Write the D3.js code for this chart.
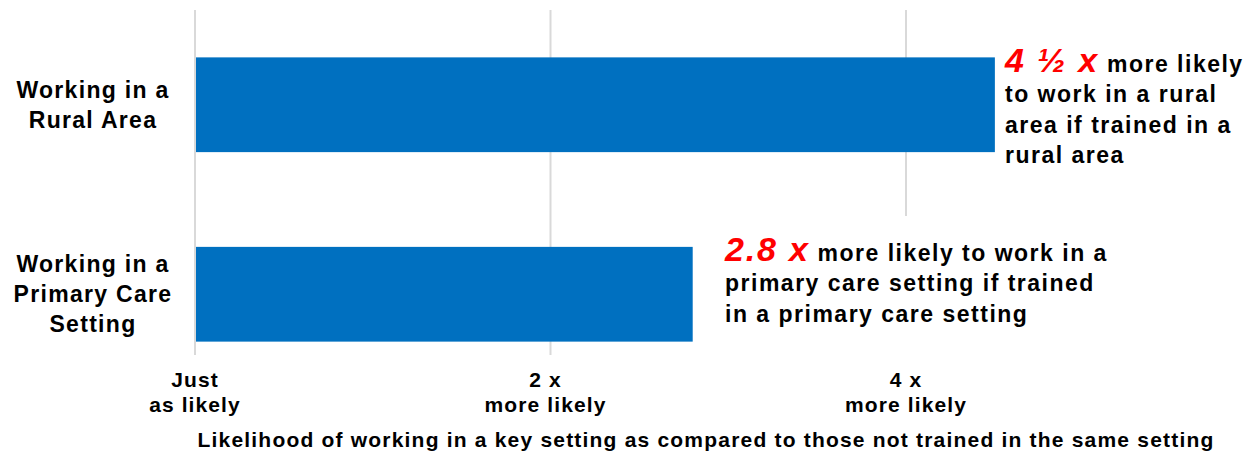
<!DOCTYPE html>
<html lang="en">
<head>
<meta charset="utf-8">
<style>
  body { margin: 0; background: #fff; }
  svg text { font-family: "Liberation Sans", Arial, sans-serif; font-weight: bold; fill: #000; }
</style>
</head>
<body>
<svg id="chart" width="1254" height="455"></svg>
<script src="https://cdn.jsdelivr.net/npm/d3@7"></script>
<script>
// data
var categories = ["Working in a Rural Area", "Working in a Primary Care Setting"];
var catLines = [["Working in a", "Rural Area"], ["Working in a", "Primary Care", "Setting"]];
var values = [4.5, 2.8];
var tickValues = [0, 2, 4];
var tickLabels = [["Just", "as likely"], ["2 x", "more likely"], ["4 x", "more likely"]];
var bigLabels = ["4 \u00BD x", "2.8 x"];
var noteLines = [
    [" more likely", "to work in a rural", "area if trained in a", "rural area"],
    [" more likely to work in a", "primary care setting if trained", "in a primary care setting"]
];
var axisTitle = "Likelihood of working in a key setting as compared to those not trained in the same setting";

var svg = d3.select("#chart");

var x = d3.scaleLinear().domain([0, 4]).range([195, 906]);
var y = d3.scaleBand().domain(categories).range([10, 389]).paddingInner(0.5).paddingOuter(0.25);

// gridlines
svg.selectAll(".grid")
    .data(tickValues)
    .enter()
    .append("line")
    .attr("x1", function(d){ return x(d); })
    .attr("x2", function(d){ return x(d); })
    .attr("y1", 10)
    .attr("y2", 355)
    .attr("stroke", "#d9d9d9")
    .attr("stroke-width", 2);

// bars
svg.selectAll(".bar")
    .data(values)
    .enter()
    .append("rect")
    .attr("x", x(0) + 1)
    .attr("y", function(d, i){ return y(categories[i]); })
    .attr("width", function(d){ return x(d) - x(0) - 1; })
    .attr("height", y.bandwidth())
    .attr("fill", "#0070C0");

// category labels
catLines.forEach(function(lines, i){
    var cy = y(categories[i]) + y.bandwidth() / 2;
    var t = svg.append("text")
        .attr("text-anchor", "middle")
        .attr("font-size", 23)
        .attr("letter-spacing", 1.3);
    lines.forEach(function(l, j){
        t.append("tspan")
            .attr("x", 93)
            .attr("y", cy + 8 + (j - (lines.length - 1) / 2) * 30)
            .text(l);
    });
});

// tick labels
tickValues.forEach(function(v, i){
    var t = svg.append("text")
        .attr("text-anchor", "middle")
        .attr("font-size", 21)
        .attr("letter-spacing", 1.1);
    tickLabels[i].forEach(function(l, j){
        t.append("tspan")
            .attr("x", x(v) - (i == 1 ? 5 : 0))
            .attr("y", 387 + j * 25)
            .text(l);
    });
});

// axis title
svg.append("text")
    .attr("x", 706)
    .attr("y", 447)
    .attr("text-anchor", "middle")
    .attr("font-size", 21)
    .attr("letter-spacing", 1.2)
    .text(axisTitle);

// annotations
var notePos = [[1005, 72], [725, 261]];
// white box behind second note hides the gridline
svg.append("rect")
    .attr("x", 718)
    .attr("y", 216)
    .attr("width", 395)
    .attr("height", 140)
    .attr("fill", "#fff");

values.forEach(function(v, i){
    var px = notePos[i][0], py = notePos[i][1];
    var t = svg.append("text")
        .attr("font-size", 23)
        .attr("letter-spacing", 1.5);
    t.append("tspan")
        .attr("x", px)
        .attr("y", py)
        .attr("font-size", 34)
        .attr("font-style", "italic")
        .attr("letter-spacing", 1.8)
        .style("fill", "#ff0000")
        .text(bigLabels[i]);
    t.append("tspan")
        .attr("font-size", 23)
        .attr("letter-spacing", 1.5)
        .text(noteLines[i][0]);
    noteLines[i].slice(1).forEach(function(l, j){
        t.append("tspan")
            .attr("x", px)
            .attr("y", py + 30.3 * (j + 1))
            .text(l);
    });
});
</script>
</body>
</html>
